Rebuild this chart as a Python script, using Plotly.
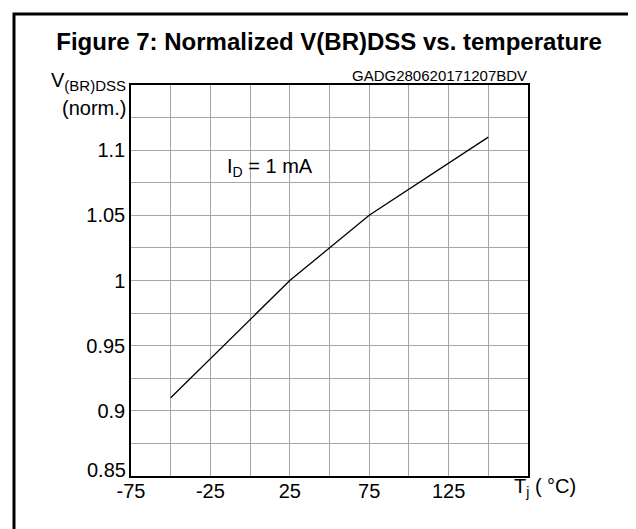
import plotly.graph_objects as go

# ---- data ----
temp_c = [-50, 25, 75, 150]
vbr_norm = [0.91, 1.00, 1.05, 1.11]

x_tickvals = [-75, -50, -25, 0, 25, 50, 75, 100, 125, 150, 175]
x_ticktext = ["-75", "", "-25", "", "25", "", "75", "", "125", "", ""]
y_tickvals = [0.85, 0.875, 0.9, 0.925, 0.95, 0.975, 1.0, 1.025, 1.05, 1.075, 1.1, 1.125, 1.15]
# the bottom label (0.85) is drawn separately, lifted slightly as in the original
y_ticktext = ["", "", "0.9", "", "0.95", "", "1", "", "1.05", "", "1.1", "", ""]
y_bottom_label = "0.85"

title_text = "<b>Figure 7: Normalized V(BR)DSS vs. temperature</b>"
code_text = "GADG280620171207BDV"
cond_text = "I<sub>D</sub> = 1 mA"

# ---- layout geometry ----
W, H = 636, 529
L, R, T, B = 123, 520, 77, 468
FONT = "Liberation Sans, Arial, sans-serif"


def px(x):
    return (x - L) / (R - L)


def py(y):
    return (B - y) / (B - T)


fig = go.Figure()
fig.add_trace(go.Scatter(x=temp_c, y=vbr_norm, mode="lines",
                         line=dict(color="black", width=1.3), showlegend=False))

fig.update_layout(
    width=W, height=H,
    margin=dict(l=L, r=W - R, t=T, b=H - B, pad=0),
    paper_bgcolor="white", plot_bgcolor="white",
    font=dict(family=FONT, color="black", size=20),
    title=dict(text=title_text, x=(321 - L) / (R - L), xanchor="center", xref="paper",
               y=1 - 34 / H, yanchor="middle", yref="container",
               font=dict(family=FONT, size=24, color="black")),
    showlegend=False,
)

fig.update_xaxes(range=[-75, 175], tickvals=x_tickvals, ticktext=x_ticktext,
                 showgrid=True, gridcolor="#a6a6a6", gridwidth=1,
                 showline=True, linecolor="black", linewidth=1.5, mirror=True,
                 ticks="", zeroline=False, tickfont=dict(size=20),
                 ticklabelstandoff=-4)
fig.update_yaxes(range=[0.85, 1.15], tickvals=y_tickvals, ticktext=y_ticktext,
                 showgrid=True, gridcolor="#a6a6a6", gridwidth=1,
                 showline=True, linecolor="black", linewidth=1.5, mirror=True,
                 ticks="", zeroline=False, tickfont=dict(size=20),
                 ticklabelstandoff=0)

ann = [
    dict(text='V<sub><span style="font-size:15px">(BR)DSS</span></sub>', x=px(120), y=py(74),
         xanchor="right", yanchor="middle", font=dict(size=20)),
    dict(text="(norm.)", x=px(120), y=py(100), xanchor="right", yanchor="middle",
         font=dict(size=20)),
    dict(text=code_text, x=px(521), y=py(67), xanchor="right", yanchor="middle",
         font=dict(size=15)),
    dict(text=cond_text, x=-15.5, y=1.087, xref="x", yref="y", xanchor="left",
         yanchor="middle", font=dict(size=20)),
    dict(text="T<sub>j</sub> ( °C)", x=px(504), y=py(479), xanchor="left", yanchor="middle",
         font=dict(size=20)),
    dict(text=y_bottom_label, x=px(120), y=py(462), xanchor="right", yanchor="middle",
         font=dict(size=20)),
]
for a in ann:
    a.setdefault("xref", "paper")
    a.setdefault("yref", "paper")
    a["showarrow"] = False
fig.update_layout(annotations=ann)

# outer frame
fig.add_shape(type="rect", xref="paper", yref="paper",
              x0=px(6), x1=px(634.5), y0=py(560), y1=py(6),
              line=dict(color="black", width=3), fillcolor="rgba(0,0,0,0)", layer="above")

fig.write_html("out.html")
